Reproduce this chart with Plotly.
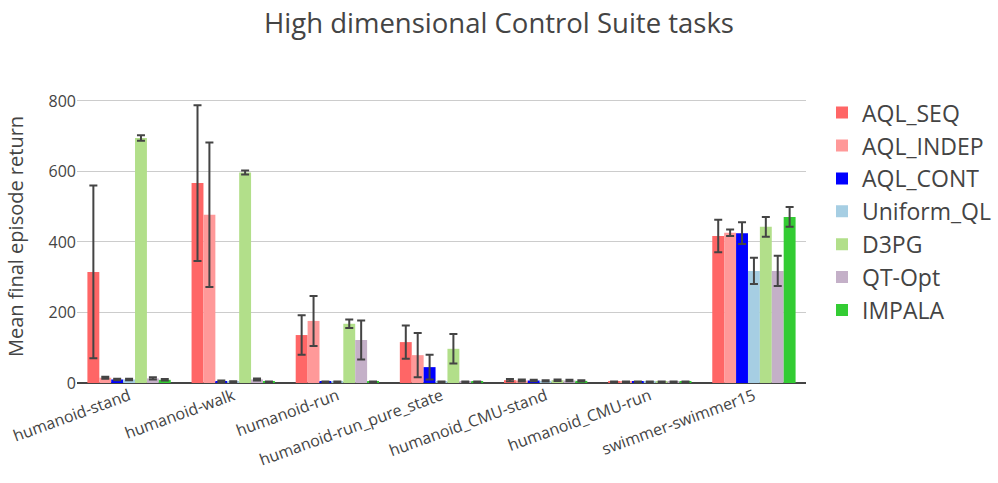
import plotly.graph_objects as go

tasks = ["humanoid-stand", "humanoid-walk", "humanoid-run", "humanoid-run_pure_state",
         "humanoid_CMU-stand", "humanoid_CMU-run", "swimmer-swimmer15"]

methods = ["AQL_SEQ", "AQL_INDEP", "AQL_CONT", "Uniform_QL", "D3PG", "QT-Opt", "IMPALA"]
colors = ["#FF6666", "#FF9999", "#0000FF", "#A6CEE3", "#B2DF8A", "#C4B0C8", "#33CC33"]

aql_seq = [315, 567, 136, 116, 8, 3, 417]
aql_seq_err = [245, 221, 56, 47, 3, 1, 46]
aql_indep = [15, 477, 176, 79, 7, 3, 426]
aql_indep_err = [3, 205, 71, 63, 3, 1, 9]
aql_cont = [10, 5, 3, 45, 7, 3, 425]
aql_cont_err = [2, 2, 1, 35, 2, 1, 31]
uniform_ql = [10, 4, 3, 3, 6, 3, 318]
uniform_ql_err = [2, 1, 1, 1, 2, 1, 37]
d3pg = [695, 597, 168, 97, 8, 3, 443]
d3pg_err = [8, 6, 12, 42, 2, 1, 28]
qt_opt = [13, 10, 122, 3, 7, 3, 318]
qt_opt_err = [3, 3, 55, 1, 2, 1, 43]
impala = [9, 3, 3, 3, 6, 3, 471]
impala_err = [2, 1, 1, 1, 2, 1, 28]

values = [aql_seq, aql_indep, aql_cont, uniform_ql, d3pg, qt_opt, impala]
errors = [aql_seq_err, aql_indep_err, aql_cont_err, uniform_ql_err, d3pg_err, qt_opt_err, impala_err]

fig = go.Figure()
for name, col, v, e in zip(methods, colors, values, errors):
    fig.add_trace(go.Bar(
        name=name, x=tasks, y=v, marker_color=col,
        error_y=dict(type="data", array=e, visible=True, color="#444", thickness=2, width=4),
    ))

W, H = 998, 483
fig.update_layout(
    template="none",
    width=W, height=H,
    barmode="group",
    bargap=0.2, bargroupgap=0,
    font=dict(family="Open Sans", color="#444"),
    title=dict(text="High dimensional Control Suite tasks", x=0.5, xanchor="center",
               y=1 - 23 / H, yanchor="middle", font=dict(size=27.5, color="#444")),
    margin=dict(l=77, r=192, t=90, b=100),
    legend=dict(font=dict(size=23), xref="container", x=822 / W, y=0.996,
                xanchor="left", yanchor="top", tracegroupgap=0),
    plot_bgcolor="white", paper_bgcolor="white",
)
fig.update_xaxes(tickangle=-20, tickfont=dict(size=16), showgrid=False,
                 showline=False, ticks="", automargin=False)
fig.update_yaxes(title=dict(text="Mean final episode return", font=dict(size=20), standoff=19),
                 tickfont=dict(size=16), showgrid=True, gridcolor="#CCCCCC", gridwidth=1,
                 zeroline=True, zerolinecolor="#444", zerolinewidth=2,
                 range=[0, 831], tickvals=[0, 200, 400, 600, 800],
                 ticks="", showline=False, automargin=False)

fig.write_html("out.html", config={"displayModeBar": False},
               post_script="document.body.style.margin='0';")
